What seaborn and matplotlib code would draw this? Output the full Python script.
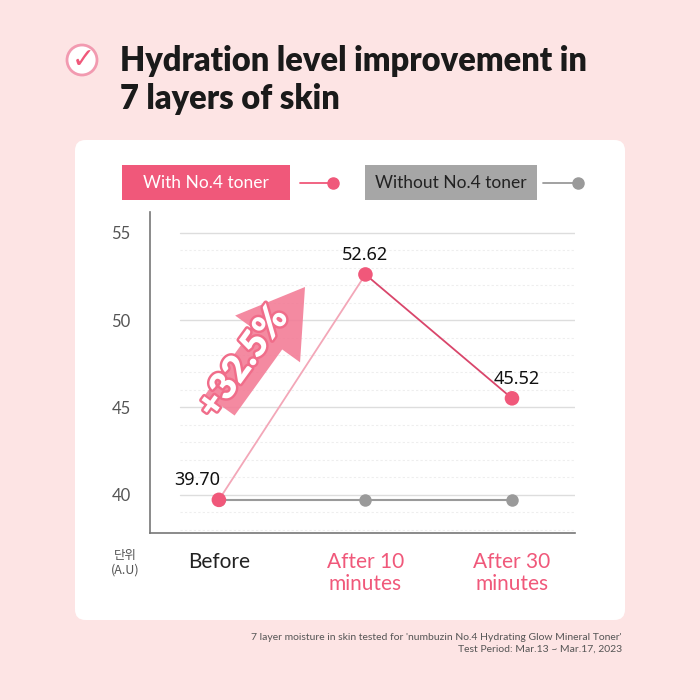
import matplotlib
matplotlib.use("Agg")
import matplotlib.pyplot as plt
import seaborn as sns
import pandas as pd
import numpy as np
from matplotlib.patches import FancyBboxPatch, Circle, FancyArrow
import matplotlib.patheffects as pe

categories = ["Before", "After 10\nminutes", "After 30\nminutes"]
with_toner = [39.70, 52.62, 45.52]
without_toner = [39.70, 39.70, 39.70]
labels = ["39.70", "52.62", "45.52"]
yticks = [40, 45, 50, 55]

PINK = "#f0587a"
GRAY = "#9a9a9a"
BG = "#fde4e4"

sns.set_theme(style="white")
plt.rcParams['font.family'] = ['Lato', 'Noto Sans CJK KR', 'DejaVu Sans']

fig = plt.figure(figsize=(7, 7), dpi=100)
fig.patch.set_facecolor(BG)
P = lambda px, py: (px/700, 1-py/700)

card = FancyBboxPatch((75/700, 80/700), 550/700, 480/700, boxstyle="round,pad=0,rounding_size=0.015",
                      transform=fig.transFigure, facecolor="white", edgecolor="none", zorder=-5)
fig.patches.append(card)

fig.patches.append(Circle(P(82, 60), 15/700, transform=fig.transFigure,
                          facecolor="white", edgecolor="#f29ab0", lw=2))
fig.text(*P(83, 60), "✓", color=PINK, fontsize=20, ha="center", va="center",
         family=['DejaVu Sans'], fontweight="bold")
fig.text(*P(120, 80), "Hydration level improvement in\n7 layers of skin", fontsize=23.5,
         fontweight="heavy", color="#1a1a1a", ha="left", va="center", linespacing=1.25)

# legend
fig.patches.append(FancyBboxPatch(P(122, 200), 168/700, 35/700, boxstyle="square,pad=0",
                                  transform=fig.transFigure, facecolor=PINK, edgecolor="none"))
fig.text(*P(206, 183), "With No.4 toner", color="white", fontsize=12.5, ha="center", va="center")
fig.add_artist(plt.Line2D([300/700, 333/700], [1-183/700]*2, color=PINK, lw=1.3))
fig.add_artist(plt.Line2D([333/700], [1-183/700], marker="o", ms=8, color=PINK))
fig.patches.append(FancyBboxPatch(P(365, 200), 172/700, 35/700, boxstyle="square,pad=0",
                                  transform=fig.transFigure, facecolor="#a6a6a6", edgecolor="none"))
fig.text(*P(451, 183), "Without No.4 toner", color="#222222", fontsize=12.5, ha="center", va="center")
fig.add_artist(plt.Line2D([543/700, 578/700], [1-183/700]*2, color=GRAY, lw=1.3))
fig.add_artist(plt.Line2D([578/700], [1-183/700], marker="o", ms=8, color=GRAY))

ax = fig.add_axes([150/700, 1-533/700, 425/700, 321/700], zorder=2)
ax.set_facecolor("none")
x = np.arange(len(categories))
df = pd.DataFrame({"x": np.concatenate([x, x]),
                   "y": with_toner + without_toner,
                   "s": ["with"]*3 + ["without"]*3})

for v in range(38, 56):
    if v in yticks:
        ax.axhline(v, color="#dddddd", lw=1, xmin=0.07, xmax=1, zorder=0)
    else:
        ax.axhline(v, color="#eeeeee", lw=0.8, ls=(0, (2, 2)), xmin=0.07, xmax=1, zorder=0)

tail = np.array([220, 405.0]); tip = np.array([305, 287.0])
d = tip - tail
fa = FancyArrow(tail[0]/700, 1-tail[1]/700, d[0]/700, -d[1]/700, width=36/700,
                head_width=80/700, head_length=64/700, length_includes_head=True,
                transform=fig.transFigure, facecolor="#f37d97", edgecolor="none", alpha=0.9, zorder=3)
fig.patches.append(fa)
fig.text(*P(243, 362), "+32.5%", rotation=54, fontsize=27, fontweight="heavy", color="white",
         ha="center", va="center", zorder=6,
         path_effects=[pe.withStroke(linewidth=3.5, foreground="#f06d8a")])

sub_w = df[df.s == "with"]
sub_o = df[df.s == "without"]
sns.lineplot(data=sub_o, x="x", y="y", color=GRAY, lw=1.5, marker="o", markersize=9,
             markeredgewidth=0, ax=ax, zorder=2)
ax.plot(sub_w.x[:2], sub_w.y[:2], color="#f3a7b8", lw=1.3, zorder=3)
ax.plot(sub_w.x[1:], sub_w.y[1:], color="#d9466b", lw=1.3, zorder=3)
sns.scatterplot(data=sub_w, x="x", y="y", color=PINK, s=110, edgecolor="none", ax=ax, zorder=4)

offs = [-0.15, 0, 0.03]
for xi, yi, lb, o in zip(x, with_toner, labels, offs):
    ax.text(xi + o, yi + 0.6, lb, ha="center", va="bottom", fontsize=13, color="#111111",
            family=['Noto Sans', 'DejaVu Sans'])

ax.set_xlim(-0.47, 2.43)
ax.set_ylim(37.8, 56.2)
ax.set_yticks(yticks)
ax.set_yticklabels([str(t) for t in yticks], fontsize=12, color="#555555")
ax.set_xticks(x)
ax.set_xticklabels(categories, fontsize=15, linespacing=1.1)
for t, c in zip(ax.get_xticklabels(), ["#222222", PINK, PINK]):
    t.set_color(c)
ax.tick_params(axis="x", pad=14, length=0)
ax.tick_params(axis="y", pad=14, length=0)
ax.set_xlabel(""); ax.set_ylabel("")
for s in ["top", "right"]:
    ax.spines[s].set_visible(False)
for s in ["left", "bottom"]:
    ax.spines[s].set_color("#777777"); ax.spines[s].set_linewidth(1.2)

fig.text(*P(125, 563), "단위\n(A.U)", fontsize=9, color="#555555", ha="center", va="center",
         family=['Noto Sans CJK KR', 'DejaVu Sans'])
fig.text(*P(622, 643),
         "7 layer moisture in skin tested for 'numbuzin No.4 Hydrating Glow Mineral Toner'\nTest Period: Mar.13 ~ Mar.17, 2023",
         fontsize=7.5, color="#555555", ha="right", va="center", linespacing=1.4)

fig.savefig("out.png", dpi=100, facecolor=BG)
